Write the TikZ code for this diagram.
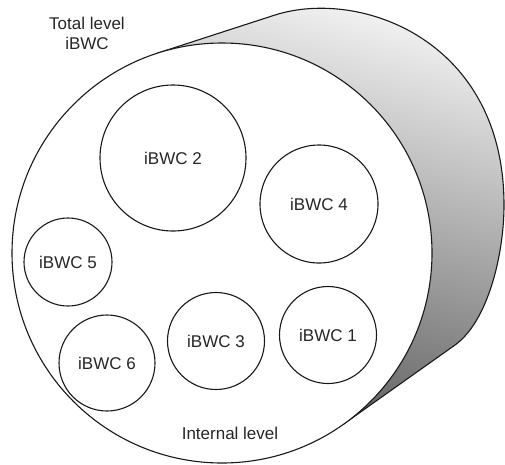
\documentclass[tikz,border=0pt]{standalone}
\usepackage{fontspec}
\setmainfont{Liberation Sans}
\begin{document}
\begin{tikzpicture}[x=1pt,y=-1pt,
  outline/.style={line width=1.1pt, draw=black!90},
  unit/.style={circle, outline, fill=white, inner sep=0pt, font=\fontsize{17}{20}\selectfont, text=black!85},
  caption/.style={font=\fontsize{17}{20}\selectfont, text=black!85, align=center, inner sep=0pt}]
\useasboundingbox (0,0) rectangle (505,464);

% key points of the cylinder body
\coordinate (tu) at (157,53.3);   % upper tangent point on front face
\coordinate (q)  at (275,15);
\coordinate (r)  at (504,205);
\coordinate (p)  at (455,345);
\coordinate (tl) at (343.7,424);  % lower tangent point on front face
\coordinate (c)  at (222,253);

% shaded side of the cylinder
\shade[top color=gray!8, bottom color=black!62, shading angle=-15]
  (tu) -- (q) .. controls (360,-12) and (504,40) .. (r)
  .. controls (504,255) and (487.6,321.8) .. (p) -- (tl) -- (c) -- cycle;
\draw[outline] (tu) -- (q) .. controls (360,-12) and (504,40) .. (r)
  .. controls (504,255) and (487.6,321.8) .. (p) -- (tl);

% front face
\node[circle, outline, fill=white, minimum size=420pt, inner sep=0pt] (front) at (c) {};

% the individual units
\node[unit, minimum size=146pt] (b2) at (173,158) {iBWC 2};
\node[unit, minimum size=118pt] (b4) at (319,204) {iBWC 4};
\node[unit, minimum size=88pt]  (b5) at (68,262)  {iBWC 5};
\node[unit, minimum size=96pt]  (b6) at (107,363) {iBWC 6};
\node[unit, minimum size=97pt]  (b3) at (216,341) {iBWC 3};
\node[unit, minimum size=97pt]  (b1) at (328,335) {iBWC 1};

% labels
\node[caption] (total) at (87,33) {Total level\\iBWC};
\node[caption] (internal) at (230,433) {Internal level};
\end{tikzpicture}
\end{document}
